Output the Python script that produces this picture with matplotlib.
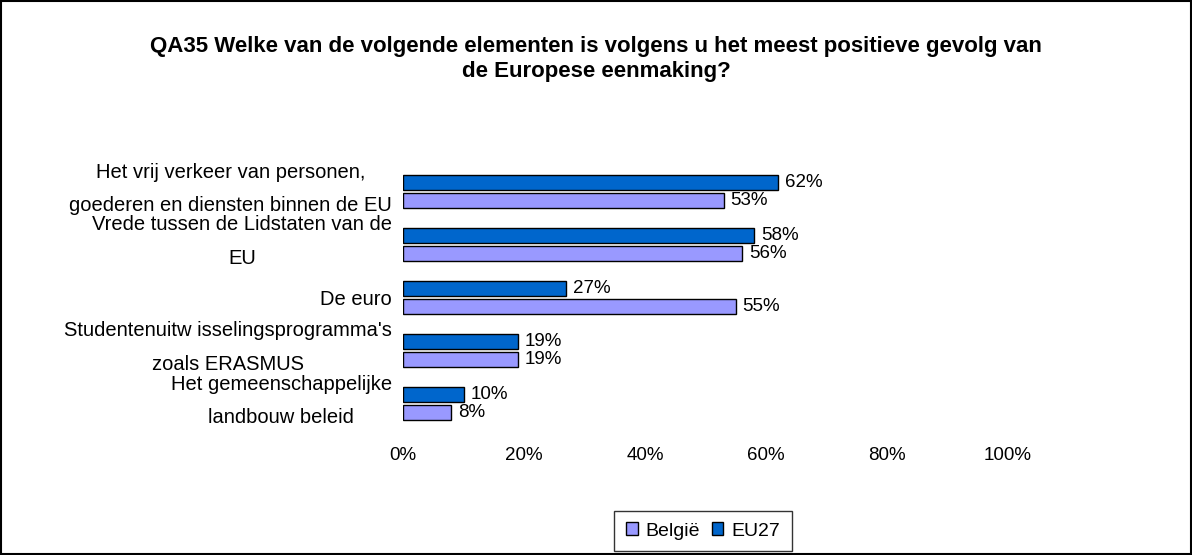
import numpy as np
import matplotlib.pyplot as plt
import matplotlib.transforms as mtransforms
from matplotlib.patches import Rectangle

plt.rcParams['font.family'] = ['Liberation Sans', 'DejaVu Sans']

title = ("QA35 Welke van de volgende elementen is volgens u het meest positieve gevolg van\n"
         "de Europese eenmaking?")
categories = [
    "Het vrij verkeer van personen,\ngoederen en diensten binnen de EU",
    "Vrede tussen de Lidstaten van de\nEU",
    "De euro",
    "Studentenuitw isselingsprogramma's\nzoals ERASMUS",
    "Het gemeenschappelijke\nlandbouw beleid",
]
eu27 = [62, 58, 27, 19, 10]
belgie = [53, 56, 55, 19, 8]
xticks = [0, 20, 40, 60, 80, 100]

fig = plt.figure(figsize=(11.92, 5.55), dpi=100)
ax = fig.add_axes([403 / 1192, 1 - 430 / 555, 605 / 1192, 265 / 555])

y = np.arange(len(categories))
h = 0.3
gap = 0.04
b1 = ax.barh(y - h / 2 - gap / 2, eu27, height=h, color='#0066CC',
             edgecolor='black', linewidth=1, label='EU27')
b2 = ax.barh(y + h / 2 + gap / 2, belgie, height=h, color='#9999FF',
             edgecolor='black', linewidth=1, label='België')

for bars, vals in [(b1, eu27), (b2, belgie)]:
    for bar, v in zip(bars, vals):
        ax.annotate(f"{v}%", (bar.get_width(), bar.get_y() + bar.get_height() / 2),
                    xytext=(5, 0), textcoords='offset points',
                    va='center', ha='left', fontsize=13.5)

ax.set_xlim(0, 100)
ax.set_ylim(len(categories) - 0.5, -0.5)
ax.set_xticks(xticks)
ax.set_xticklabels([f"{t}%" for t in xticks], fontsize=13.5)
ax.set_yticks(y)
ax.set_yticklabels(categories, fontsize=14.5, multialignment='center', linespacing=1.95)
ax.tick_params(length=0, pad=8)
ax.tick_params(axis='x', pad=12)
for s in ax.spines.values():
    s.set_visible(False)

# two-line labels sit a bit higher in the original
shift_up = mtransforms.ScaledTranslation(0, 0.12, fig.dpi_scale_trans)
for lab in ax.get_yticklabels():
    if '\n' in lab.get_text():
        lab.set_transform(lab.get_transform() + shift_up)

fig.text(0.5, 1 - 59 / 555, title, ha='center', va='center',
         fontsize=16, fontweight='bold', linespacing=1.2)

leg = fig.legend(handles=[b2, b1], labels=['België', 'EU27'], ncol=2,
                 loc='center', bbox_to_anchor=(703 / 1192, 1 - 531 / 555),
                 frameon=True, fancybox=False, edgecolor='black', fontsize=14,
                 handlelength=0.6, handleheight=0.6, handletextpad=0.4,
                 columnspacing=0.6, borderpad=0.6)
leg.get_frame().set_linewidth(1)

fig.patches.append(Rectangle((0.001, 0.001), 0.998, 0.997, transform=fig.transFigure,
                             fill=False, edgecolor='black', linewidth=1.5))

fig.savefig('out.png', dpi=100)
